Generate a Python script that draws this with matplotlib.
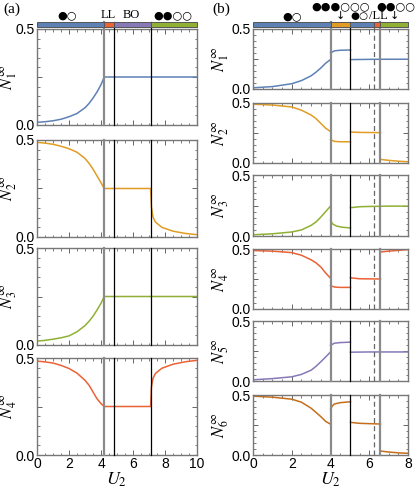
import numpy as np
import matplotlib
matplotlib.use("Agg")
import matplotlib.pyplot as plt
from matplotlib.patches import Rectangle
from matplotlib.ticker import MultipleLocator, FixedLocator
import matplotlib.transforms as mtransforms

plt.rcParams['font.family'] = ['Liberation Sans', 'DejaVu Sans']
plt.rcParams['mathtext.fontset'] = 'stix'

# colours (Mathematica-like palette)
BLUE = '#5E81B5'
ORANGE = '#E19C24'
GREEN = '#8FB032'
RED = '#EB6235'
PURPLE = '#8778B6'
BROWN = '#C56E1A'
nan = np.nan

# ---------------- panel (a) data ----------------
xa_rise = [0, 0.5, 1, 1.5, 2, 2.5, 3, 3.25, 3.5, 3.75, 4.0, 4.2, 7.1, 10]
N1a = [0.014, 0.017, 0.022, 0.03, 0.043, 0.06, 0.09, 0.112, 0.14, 0.172, 0.21, 0.25, 0.25, 0.25]
N3a = [0.02, 0.024, 0.03, 0.037, 0.047, 0.068, 0.1, 0.122, 0.148, 0.18, 0.215, 0.25, 0.25, 0.25]

xa_fall = [0, 0.5, 1, 1.5, 2, 2.5, 3, 3.25, 3.5, 3.75, 4.0, 4.2, 7.1,
           7.15, 7.25, 7.4, 7.8, 8.5, 9.3, 10]
N2a = [0.488, 0.484, 0.478, 0.468, 0.455, 0.437, 0.405, 0.38, 0.35, 0.315, 0.28, 0.25, 0.25,
       0.155, 0.103, 0.077, 0.05, 0.03, 0.018, 0.012]
N4a = [0.484, 0.48, 0.474, 0.462, 0.446, 0.422, 0.385, 0.36, 0.325, 0.29, 0.265, 0.25, 0.25,
       0.35, 0.395, 0.42, 0.447, 0.468, 0.481, 0.488]

a_lines = [4.2, 4.8, 7.1]
a_line_styles = ['gray', 'black', 'black']
a_bar_edges = [0, 4.2, 4.8, 7.1, 10]
a_bar_colors = [BLUE, RED, PURPLE, GREEN]

# ---------------- panel (b) data (nan = jump) ----------------
xb_up = [0, 1, 2, 2.5, 3, 3.25, 3.5, 3.75, 4.0, nan, 4.0, 4.2, 4.5, 5.03, nan, 5.03, 6, 7, 8]
N1b = [0.01, 0.02, 0.044, 0.07, 0.11, 0.14, 0.175, 0.215, 0.245, nan, 0.30, 0.318, 0.323, 0.325,
       nan, 0.245, 0.247, 0.248, 0.248]
N5b = [0.01, 0.02, 0.035, 0.055, 0.09, 0.122, 0.16, 0.2, 0.242, nan, 0.297, 0.315, 0.32, 0.324,
       nan, 0.24, 0.242, 0.242, 0.242]

xb_mid = [0, 1, 2, 2.5, 3, 3.25, 3.5, 3.75, 4.0, nan, 4.0, 4.1, 4.3, 4.6, 5.03, nan,
          5.03, 5.5, 6, 7, 8]
N3b = [0.01, 0.018, 0.033, 0.05, 0.087, 0.115, 0.155, 0.2, 0.245, nan, 0.13, 0.1, 0.082, 0.072,
       0.066, nan, 0.232, 0.24, 0.242, 0.245, 0.245]

xb_dn = [0, 1, 2, 2.5, 3, 3.25, 3.5, 3.75, 4.0, nan, 4.0, 4.2, 4.5, 5.03, nan, 5.03, 5.5, 6.58,
         nan, 6.58, 7, 7.5, 8]
N2b = [0.49, 0.483, 0.467, 0.44, 0.40, 0.37, 0.33, 0.29, 0.262, nan, 0.195, 0.18, 0.177, 0.177,
       nan, 0.258, 0.255, 0.253, nan, 0.03, 0.022, 0.015, 0.01]
N4b = [0.487, 0.482, 0.47, 0.448, 0.41, 0.385, 0.35, 0.30, 0.257, nan, 0.195, 0.183, 0.18, 0.18,
       nan, 0.26, 0.252, 0.25, nan, 0.475, 0.482, 0.489, 0.495]

xb_n6 = [0, 1, 2, 2.5, 3, 3.25, 3.5, 3.75, 4.0, nan, 4.0, 4.1, 4.2, 4.5, 5.03, nan, 5.03, 5.5,
         6.58, nan, 6.58, 7, 7.5, 8]
N6b = [0.49, 0.482, 0.465, 0.44, 0.39, 0.355, 0.32, 0.28, 0.257, nan, 0.383, 0.41, 0.425, 0.436,
       0.444, nan, 0.272, 0.264, 0.258, nan, 0.033, 0.025, 0.018, 0.014]

b_lines = [4.0, 5.03, 6.23, 6.58]
b_line_styles = ['gray', 'black', 'dash', 'gray']
b_bar_edges = [0, 4.0, 5.03, 6.23, 6.58, 8]
b_bar_colors = [BLUE, ORANGE, BLUE, RED, GREEN]

W, H = 415, 494
fig = plt.figure(figsize=(W / 100, H / 100), dpi=100)


def px_axes(left, right, top, bottom):
    return fig.add_axes([left / W, 1 - bottom / H, (right - left) / W, (bottom - top) / H])


def vline(ax, x, kind, ymax=1.0):
    if kind == 'gray':
        ax.axvline(x, 0, ymax, color='#8a8a8a', lw=1.6, clip_on=False, zorder=3)
    elif kind == 'black':
        ax.axvline(x, 0, ymax, color='black', lw=0.9, clip_on=False, zorder=3)
    else:
        ax.axvline(x, 0, ymax, color='#666666', lw=0.9, ls=(0, (4, 2.5)), clip_on=False, zorder=3)


def style(ax, xmax, show_x):
    ax.set_xlim(0, xmax)
    ax.set_ylim(0, 0.5)
    ax.yaxis.set_major_locator(FixedLocator([0, 0.25, 0.5]))
    ax.set_yticklabels(['0.0', '', '0.5'])
    ax.yaxis.set_minor_locator(MultipleLocator(0.05))
    ax.xaxis.set_major_locator(MultipleLocator(2))
    ax.xaxis.set_minor_locator(MultipleLocator(0.5))
    ax.tick_params(which='both', direction='in', top=True, right=True, color='#666666',
                   labelsize=10, pad=1.5)
    ax.tick_params(which='major', length=3.5, width=0.7)
    ax.tick_params(which='minor', length=1.8, width=0.6)
    for s in ax.spines.values():
        s.set_color('#777777')
        s.set_linewidth(1.0)
    if not show_x:
        ax.tick_params(labelbottom=False)
    else:
        ax.set_xlabel(r'$U_2$', fontsize=13, labelpad=0)


def color_bar(ax, edges, colors, y0, y1):
    trans = mtransforms.blended_transform_factory(ax.transData, ax.transAxes)
    for i, c in enumerate(colors):
        r = Rectangle((edges[i], y0), edges[i + 1] - edges[i], y1 - y0, transform=trans,
                      facecolor=c, edgecolor='#555555', lw=0.7, clip_on=False, zorder=4)
        ax.add_patch(r)


# ---------------- panel (a) ----------------
a_rows = [(29, 125), (140, 237), (248, 345), (358, 455)]
a_series = [(xa_rise, N1a, BLUE), (xa_fall, N2a, ORANGE), (xa_rise, N3a, GREEN), (xa_fall, N4a, RED)]
for i, ((top, bot), (xs, ys, c)) in enumerate(zip(a_rows, a_series)):
    ax = px_axes(37, 197, top, bot)
    style(ax, 10, i == 3)
    ax.plot(xs, ys, color=c, lw=1.1, zorder=2)
    h = bot - top
    for x, k in zip(a_lines, a_line_styles):
        vline(ax, x, k, 1 + 7 / h if i == 0 else 1.0)
    ax.set_ylabel(r'$N_{%d}^{\infty}$' % (i + 1), fontsize=12, labelpad=0)
    ax.yaxis.set_label_coords(-0.11, 0.5)
    if i == 0:
        color_bar(ax, a_bar_edges, a_bar_colors, 1 + 2 / h, 1 + 7 / h)
        tr = mtransforms.blended_transform_factory(ax.transData, ax.transAxes)
        ty = 1 + 14 / h
        ax.text(1.9, ty, '●○', transform=tr, ha='center', va='center', fontsize=8,
                family=['DejaVu Sans'])
        ax.text(4.45, ty, 'LL', transform=tr, ha='center', va='center', fontsize=9,
                family=['Liberation Serif'])
        ax.text(5.9, ty, 'BO', transform=tr, ha='center', va='center', fontsize=9,
                family=['Liberation Serif'])
        ax.text(8.5, ty, '●●○○', transform=tr, ha='center', va='center', fontsize=8,
                family=['DejaVu Sans'])

# ---------------- panel (b) ----------------
b_rows = [(29, 89), (103, 163), (175, 236), (249, 309), (321, 381), (395, 455)]
b_series = [(xb_up, N1b, BLUE), (xb_dn, N2b, ORANGE), (xb_mid, N3b, GREEN),
            (xb_dn, N4b, RED), (xb_up, N5b, PURPLE), (xb_n6, N6b, BROWN)]
for i, ((top, bot), (xs, ys, c)) in enumerate(zip(b_rows, b_series)):
    ax = px_axes(253, 408, top, bot)
    style(ax, 8, i == 5)
    ax.plot(xs, ys, color=c, lw=1.1, zorder=2)
    h = bot - top
    for x, k in zip(b_lines, b_line_styles):
        vline(ax, x, k, 1 + 7 / h if i == 0 else 1.0)
    ax.set_ylabel(r'$N_{%d}^{\infty}$' % (i + 1), fontsize=12, labelpad=0)
    ax.yaxis.set_label_coords(-0.145, 0.5)
    if i == 0:
        color_bar(ax, b_bar_edges, b_bar_colors, 1 + 2 / h, 1 + 7 / h)
        tr = mtransforms.blended_transform_factory(ax.transData, ax.transAxes)
        lo = 1 + 13 / h
        hi = 1 + 23 / h
        ax.text(2.0, lo, '●○', transform=tr, ha='center', va='center', fontsize=8,
                family=['DejaVu Sans'])
        ax.text(4.5, hi, '●●●○○○', transform=tr, ha='center', va='center', fontsize=8,
                family=['DejaVu Sans'])
        ax.text(4.5, lo, '↓', transform=tr, ha='center', va='center', fontsize=8,
                family=['DejaVu Sans'])
        ax.text(5.05, lo, '●○', transform=tr, ha='left', va='center', fontsize=7.5,
                family=['DejaVu Sans'])
        ax.text(5.98, lo, '/LL', transform=tr, ha='left', va='center', fontsize=9,
                family=['Liberation Serif'])
        ax.text(7.35, hi, '●●○○', transform=tr, ha='center', va='center', fontsize=8,
                family=['DejaVu Sans'])
        ax.text(7.3, lo, '↓', transform=tr, ha='center', va='center', fontsize=8,
                family=['DejaVu Sans'])

fig.text(3 / W, 1 - 9 / H, '(a)', fontsize=11, family=['Liberation Serif'], va='center')
fig.text(212 / W, 1 - 9 / H, '(b)', fontsize=11, family=['Liberation Serif'], va='center')

fig.savefig('out.png', dpi=100)
